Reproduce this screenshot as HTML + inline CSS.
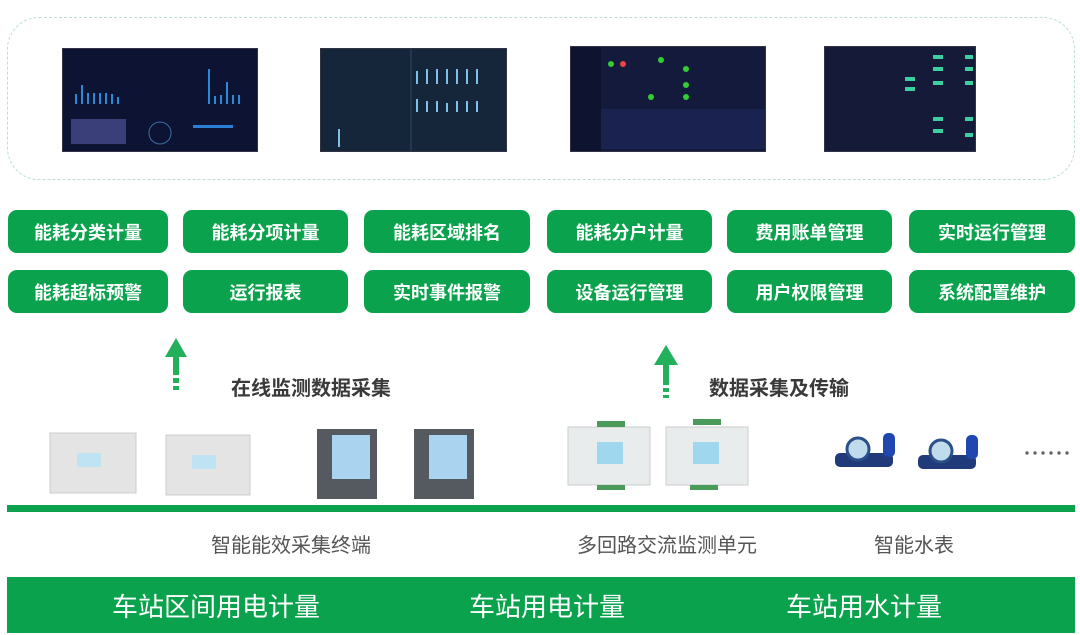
<!DOCTYPE html>
<html><head><meta charset="utf-8"><style>
body{margin:0;width:1080px;height:635px;background:#fff;position:relative;overflow:hidden;font-family:"Liberation Sans","Noto Sans CJK SC",sans-serif}
.a{position:absolute}
.box{position:absolute;left:7px;top:17px;width:1068px;height:163px;border:1px dashed #b9e0d2;border-radius:32px;box-sizing:border-box}
.ss{position:absolute;background:#0d1530;border:1px solid #334}
.btn{position:absolute;background:#0aa24c;border-radius:9px;color:#fff;font-size:18px;font-weight:bold;display:flex;align-items:center;justify-content:center;height:43px}
.lbl{position:absolute;font-size:20px;color:#555;transform:translateX(-50%);white-space:nowrap}
.hd{position:absolute;font-size:20px;font-weight:bold;color:#3a3a3a;white-space:nowrap}
.bt{position:absolute;font-size:26px;color:#fff;transform:translateX(-50%);white-space:nowrap;top:587px}
</style></head><body>
<div class="box"></div>
<div class="ss" style="left:62px;top:48px;width:194px;height:102px;background:#0c1333">
<svg width="194" height="102"><g fill="#2b8ad8"><rect x="12" y="45" width="2" height="10"/><rect x="18" y="36" width="2" height="19"/><rect x="24" y="44" width="2" height="11"/><rect x="30" y="44" width="2" height="11"/><rect x="36" y="44" width="2" height="11"/><rect x="42" y="44" width="2" height="11"/><rect x="48" y="45" width="2" height="10"/><rect x="54" y="48" width="2" height="7"/><rect x="145" y="20" width="2" height="35"/><rect x="151" y="47" width="2" height="8"/><rect x="157" y="46" width="2" height="9"/><rect x="163" y="33" width="2" height="22"/><rect x="169" y="46" width="2" height="9"/><rect x="175" y="46" width="2" height="9"/></g><rect x="8" y="70" width="55" height="25" fill="#3a3f7a"/><circle cx="97" cy="84" r="11" fill="none" stroke="#3a6fa0"/><rect x="130" y="76" width="40" height="3" fill="#2a7fd4"/></svg></div>
<div class="ss" style="left:320px;top:48px;width:185px;height:102px;background:#15263a">
<svg width="185" height="102"><g fill="#7fc0e8"><rect x="95" y="22" width="2" height="13"/><rect x="105" y="20" width="2" height="15"/><rect x="115" y="20" width="2" height="15"/><rect x="125" y="20" width="2" height="15"/><rect x="135" y="20" width="2" height="15"/><rect x="145" y="20" width="2" height="15"/><rect x="155" y="20" width="2" height="15"/><rect x="95" y="50" width="2" height="13"/><rect x="105" y="52" width="2" height="11"/><rect x="115" y="52" width="2" height="11"/><rect x="125" y="54" width="2" height="9"/><rect x="135" y="52" width="2" height="11"/><rect x="145" y="52" width="2" height="11"/><rect x="155" y="52" width="2" height="11"/><rect x="17" y="80" width="2" height="18"/></g><line x1="90" y1="0" x2="90" y2="102" stroke="#2c4a60"/></svg></div>
<div class="ss" style="left:570px;top:46px;width:194px;height:104px;background:#131a3c">
<svg width="194" height="104"><rect x="0" y="0" width="30" height="104" fill="#0e1430"/><circle cx="40" cy="17" r="3" fill="#3c3"/><circle cx="52" cy="17" r="3" fill="#e44"/><circle cx="90" cy="13" r="3" fill="#3c3"/><circle cx="115" cy="22" r="3" fill="#3c3"/><circle cx="115" cy="38" r="3" fill="#3c3"/><circle cx="115" cy="50" r="3" fill="#3c3"/><circle cx="80" cy="50" r="3" fill="#3c3"/><rect x="30" y="62" width="164" height="40" fill="#1a2350"/></svg></div>
<div class="ss" style="left:824px;top:46px;width:150px;height:104px;background:#141a38">
<svg width="150" height="104"><g fill="#3cd0a0"><rect x="108" y="8" width="10" height="4"/><rect x="140" y="8" width="8" height="4"/><rect x="108" y="20" width="10" height="4"/><rect x="140" y="20" width="8" height="4"/><rect x="108" y="34" width="10" height="4"/><rect x="140" y="34" width="8" height="4"/><rect x="80" y="30" width="10" height="4"/><rect x="80" y="40" width="10" height="4"/><rect x="108" y="70" width="10" height="4"/><rect x="108" y="82" width="10" height="4"/><rect x="140" y="70" width="8" height="4"/><rect x="140" y="86" width="8" height="4"/></g></svg></div>

<div class="btn" style="left:8px;top:210px;width:160px">能耗分类计量</div>
<div class="btn" style="left:183px;top:210px;width:165px">能耗分项计量</div>
<div class="btn" style="left:364px;top:210px;width:166px">能耗区域排名</div>
<div class="btn" style="left:547px;top:210px;width:165px">能耗分户计量</div>
<div class="btn" style="left:727px;top:210px;width:165px">费用账单管理</div>
<div class="btn" style="left:909px;top:210px;width:166px">实时运行管理</div>
<div class="btn" style="left:8px;top:270px;width:160px">能耗超标预警</div>
<div class="btn" style="left:183px;top:270px;width:165px">运行报表</div>
<div class="btn" style="left:364px;top:270px;width:166px">实时事件报警</div>
<div class="btn" style="left:547px;top:270px;width:165px">设备运行管理</div>
<div class="btn" style="left:727px;top:270px;width:165px">用户权限管理</div>
<div class="btn" style="left:909px;top:270px;width:166px">系统配置维护</div>

<svg class="a" style="left:160px;top:335px" width="32" height="60"><polygon points="16,3 5,22 27,22" fill="#22b05a"/><rect x="13" y="22" width="6" height="18" fill="#22b05a"/><rect x="13" y="43" width="6" height="5" fill="#22b05a"/><rect x="13" y="51" width="6" height="4" fill="#22b05a"/></svg>
<svg class="a" style="left:650px;top:343px" width="32" height="60"><polygon points="16,2 4,22 28,22" fill="#22b05a"/><rect x="13" y="22" width="6" height="20" fill="#22b05a"/><rect x="13" y="45" width="6" height="4" fill="#22b05a"/><rect x="13" y="52" width="6" height="3" fill="#22b05a"/></svg>
<div class="hd" style="left:231px;top:372px">在线监测数据采集</div>
<div class="hd" style="left:709px;top:372px">数据采集及传输</div>

<svg class="a" style="left:0;top:415px" width="1080" height="90">
<g><rect x="50" y="18" width="86" height="60" fill="#e4e4e4" stroke="#ccc"/><rect x="77" y="38" width="24" height="14" fill="#bfe3f2"/><rect x="166" y="20" width="84" height="60" fill="#e4e4e4" stroke="#ccc"/><rect x="192" y="40" width="24" height="14" fill="#bfe3f2"/></g>
<g><rect x="317" y="14" width="60" height="70" fill="#555a60"/><rect x="332" y="20" width="38" height="44" fill="#a9d3ee"/><rect x="414" y="14" width="60" height="70" fill="#555a60"/><rect x="429" y="20" width="38" height="44" fill="#a9d3ee"/></g>
<g><rect x="568" y="12" width="82" height="58" fill="#e9ecec" stroke="#ccc"/><rect x="597" y="27" width="26" height="22" fill="#9fd7ee"/><rect x="597" y="6" width="28" height="6" fill="#4a9a5a"/><rect x="597" y="70" width="28" height="5" fill="#4a9a5a"/><rect x="666" y="12" width="82" height="58" fill="#e9ecec" stroke="#ccc"/><rect x="693" y="27" width="26" height="22" fill="#9fd7ee"/><rect x="693" y="4" width="28" height="6" fill="#4a9a5a"/><rect x="690" y="70" width="28" height="5" fill="#4a9a5a"/></g>
<g><rect x="835" y="38" width="58" height="14" rx="5" fill="#203a7a"/><circle cx="858" cy="34" r="11" fill="#bfdbec" stroke="#2a4f8a" stroke-width="3"/><rect x="883" y="18" width="12" height="24" rx="5" fill="#2047b0"/><rect x="918" y="40" width="58" height="14" rx="5" fill="#203a7a"/><circle cx="941" cy="36" r="11" fill="#bfdbec" stroke="#2a4f8a" stroke-width="3"/><rect x="966" y="20" width="12" height="24" rx="5" fill="#2047b0"/></g>
<g fill="#666"><circle cx="1027" cy="38" r="1.7"/><circle cx="1035" cy="38" r="1.7"/><circle cx="1043" cy="38" r="1.7"/><circle cx="1051" cy="38" r="1.7"/><circle cx="1059" cy="38" r="1.7"/><circle cx="1067" cy="38" r="1.7"/></g>
</svg>
<div class="a" style="left:7px;top:505px;width:1068px;height:7px;background:#0aa24c"></div>
<div class="lbl" style="left:291px;top:529px">智能能效采集终端</div>
<div class="lbl" style="left:667px;top:529px">多回路交流监测单元</div>
<div class="lbl" style="left:914px;top:529px">智能水表</div>
<div class="a" style="left:7px;top:577px;width:1068px;height:56px;background:#0aa24c"></div>
<div class="bt" style="left:216px">车站区间用电计量</div>
<div class="bt" style="left:547px">车站用电计量</div>
<div class="bt" style="left:864px">车站用水计量</div>
</body></html>
